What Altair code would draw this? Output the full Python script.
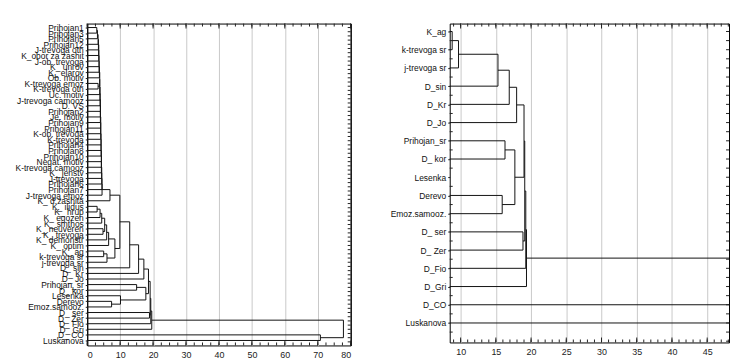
import json
import altair as alt
import pandas as pd

FONT = "Liberation Sans, Arial, sans-serif"

# ---------------- left dendrogram (all variables) ----------------
left_leaves = [
    "Prihojan1", "Prihojan3", "Prihojan5", "Prihojan12", "J-trevoga otn",
    "K_obor za zashit", "J-ob. trevoga", "K_ unrov", "K_ elarov", "Ob. motiv",
    "K-trevoga emoz", "K-trevoga otn", "Uc. motiv", "J-trevoga camooz", "D_VS",
    "Prihojan2", "Je. motiv", "Prihojan9", "Prihojan11", "K-ob. trevoga",
    "K-trevoga", "Prihojan4", "Prihojan8", "Prihojan10", "Negat. motiv",
    "K-trevoga camooz", "K_ jenstv", "J-trevoga", "Prihojan6", "Prihojan7",
    "J-trevoga emoz", "K_ d.zashita", "K_ ilidus", "K_ hrup", "K_ egozen",
    "K_ smthos", "K_ neuveren", "K_ trevoga", "K_ demonstr", "K_ optim",
    "K_ ag", "k-trevoga sr", "j-trevoga sr", "D_ sin", "D_ Kr", "D_ Jo",
    "Prihojan_sr", "D_ kor", "Lesenka", "Derevo", "Emoz.samooz.", "D_ ser",
    "D_ Zer", "D_ Fio", "D_ Gri", "D_ CO", "Luskanova",
]
# merges: child a, child b (leaf name or index of earlier merge), linkage distance
left_a = ["Prihojan1", 0, 1, 2, 3, 4, 5, 6, 7, "K-trevoga emoz", 8, 10, 11, 12, 13,
          14, 15, 16, 17, 18, 19, 20, 21, 22, 23, 24, 25, 26, 27, 28, 29,
          "K_ ilidus", 31, 32, "K_ neuveren", 33, 35, 36, "K_ ag", 38, 37, 30,
          41, 42, 43, "Prihojan_sr", "Derevo", "Lesenka", 45, 44, "D_ ser",
          49, 51, 52, "D_ CO", 53]
left_b = ["Prihojan3", "Prihojan5", "Prihojan12", "J-trevoga otn", "K_obor za zashit",
          "J-ob. trevoga", "K_ unrov", "K_ elarov", "Ob. motiv", "K-trevoga otn", 9,
          "Uc. motiv", "J-trevoga camooz", "D_VS", "Prihojan2", "Je. motiv",
          "Prihojan9", "Prihojan11", "K-ob. trevoga", "K-trevoga", "Prihojan4",
          "Prihojan8", "Prihojan10", "Negat. motiv", "K-trevoga camooz", "K_ jenstv",
          "J-trevoga", "Prihojan6", "Prihojan7", "J-trevoga emoz", "K_ d.zashita",
          "K_ hrup", "K_ egozen", "K_ smthos", "K_ trevoga", 34, "K_ demonstr",
          "K_ optim", "k-trevoga sr", "j-trevoga sr", 39, 40, "D_ sin", "D_ Kr",
          "D_ Jo", "D_ kor", "Emoz.samooz.", 46, 47, 48, "D_ Zer", 50, "D_ Fio",
          "D_ Gri", "Luskanova", 54]
left_h = [2.9, 3.1, 3.3, 3.4, 3.5, 3.5, 3.6, 3.6, 3.7, 3.3, 3.8, 3.8, 3.9, 3.9, 4.0,
          4.0, 4.0, 4.1, 4.1, 4.1, 4.2, 4.2, 4.2, 4.3, 4.3, 4.3, 4.4, 4.4, 4.5, 4.5,
          6.9, 3.0, 3.9, 4.4, 4.8, 5.3, 5.9, 6.5, 5.0, 6.0, 8.4, 9.9, 12.9, 15.6,
          17.2, 15.0, 7.4, 10.1, 17.8, 18.6, 18.9, 19.1, 19.3, 19.6, 70.8, 77.8]

left_major = [0, 10, 20, 30, 40, 50, 60, 70, 80]

# ---------------- right dendrogram (reduced set) ----------------
right_leaves = [
    "K_ag", "k-trevoga sr", "j-trevoga sr", "D_sin", "D_Kr", "D_Jo",
    "Prihojan_sr", "D_ kor", "Lesenka", "Derevo", "Emoz.samooz.", "D_ ser",
    "D_ Zer", "D_Fio", "D_Gri", "D_CO", "Luskanova",
]
right_a = ["K_ag", 0, 1, 2, 3, "Prihojan_sr", "Derevo", 5, 4, "D_ ser", 8, 10, 11, "D_CO", 12]
right_b = ["k-trevoga sr", "j-trevoga sr", "D_sin", "D_Kr", "D_Jo", "D_ kor",
           "Emoz.samooz.", 6, 7, "D_ Zer", 9, "D_Fio", "D_Gri", "Luskanova", 13]
right_h = [8.8, 9.7, 15.3, 16.9, 17.95, 16.3, 15.9, 17.7, 19.0, 18.85, 19.1, 19.25,
           19.35, 70.8, 77.8]

right_major = [10, 15, 20, 25, 30, 35, 40, 45]


def tree_segments(leaves, ma, mb, mh):
    pos = {name: (float(i), 0.0) for i, name in enumerate(leaves)}
    rows = []
    for k, (a, b, h) in enumerate(zip(ma, mb, mh)):
        ya, xa = pos[a]
        yb, xb = pos[b]
        rows.append({"x": xa, "x2": h, "y": ya, "y2": ya})
        rows.append({"x": xb, "x2": h, "y": yb, "y2": yb})
        rows.append({"x": h, "x2": h, "y": ya, "y2": yb})
        pos[k] = ((ya + yb) / 2.0, h)
    return pd.DataFrame(rows)


def panel(leaves, ma, mb, mh, xdom, majors, minors, ydom, w, h,
          fs, ext, rminor, lminor=None, title=None):
    segs = tree_segments(leaves, ma, mb, mh)
    xs = alt.Scale(domain=xdom, nice=False, zero=False)
    ys = alt.Scale(domain=ydom, reverse=True, nice=False, zero=False)
    label_expr = json.dumps(leaves) + "[datum.value]"
    edge = "datum.value <= %s || datum.value >= %s" % (xdom[0] + 0.01, xdom[1] - 0.01)
    xaxis = alt.Axis(values=majors, grid=True,
                     gridColor=alt.condition(edge, alt.value("#000000"), alt.value("#c8c8c8")),
                     ticks=False, tickSize=0, domain=False,
                     labelFont=FONT, labelFontSize=9, labelColor="#222",
                     labelPadding=5, labelOverlap=False, title=None, format="d")
    yaxis = alt.Axis(values=list(range(len(leaves))), labelExpr=label_expr, grid=False,
                     domain=False, ticks=True, tickSize=2, tickColor="#222",
                     labelFont=FONT, labelFontSize=fs, labelColor="#111",
                     labelPadding=2, labelOverlap=False, labelLimit=ext - 3,
                     minExtent=ext, maxExtent=ext, title=None)

    def X(field):
        return alt.X(field, scale=xs, axis=xaxis)

    def Y(field):
        return alt.Y(field, scale=ys, axis=yaxis)

    lines = alt.Chart(segs).mark_rule(color="#111", strokeWidth=1, clip=True).encode(
        x=X("x:Q"), x2="x2:Q", y=Y("y:Q"), y2="y2:Q")

    def vticks(values, y0, y1):
        return alt.Chart(pd.DataFrame({"x": values})).mark_rule(
            color="#222", strokeWidth=1).encode(x=X("x:Q"), y=alt.value(y0), y2=alt.value(y1))

    def hticks(values, x0, x1):
        return alt.Chart(pd.DataFrame({"y": values})).mark_rule(
            color="#222", strokeWidth=1).encode(y=Y("y:Q"), x=alt.value(x0), x2=alt.value(x1))

    layers = [lines,
              vticks(majors, 0, 5), vticks(minors, 0, 3),
              vticks(majors, h, h - 5), vticks(minors, h, h - 3),
              hticks(rminor, w, w - 3)]
    if lminor is not None:
        layers.append(hticks(lminor, 0, 3))
    props = dict(width=w, height=h)
    if title is not None:
        props["title"] = title
    return alt.layer(*layers).properties(**props)


left_minor = [i * 2.5 for i in range(33)]
left_side = [i * 0.75 for i in range(76)]
right_minor = list(range(9, 49))
right_side = [i * 0.5 for i in range(0, 35)]

left = panel(left_leaves, left_a, left_b, left_h, [0, 80], left_major,
             left_minor, [-0.71, 56.89], 266, 325, 8.5, 79, left_side)
right = panel(right_leaves, right_a, right_b, right_h, [8.45, 48.1], right_major,
              right_minor, [-0.435, 17.07], 282, 322, 8.5, 62,
              right_side, lminor=[i + 0.5 for i in range(17)],
              title=alt.TitleParams(text=" ", fontSize=5, offset=4))

chart = alt.hconcat(left, right, spacing=36, bounds="full").properties(
    padding={"left": 0, "top": 4, "right": 0, "bottom": 0},
    background="white",
).configure_view(stroke="#000", strokeWidth=1)

chart.save("out.html", embed_options={"renderer": "svg", "actions": False})
